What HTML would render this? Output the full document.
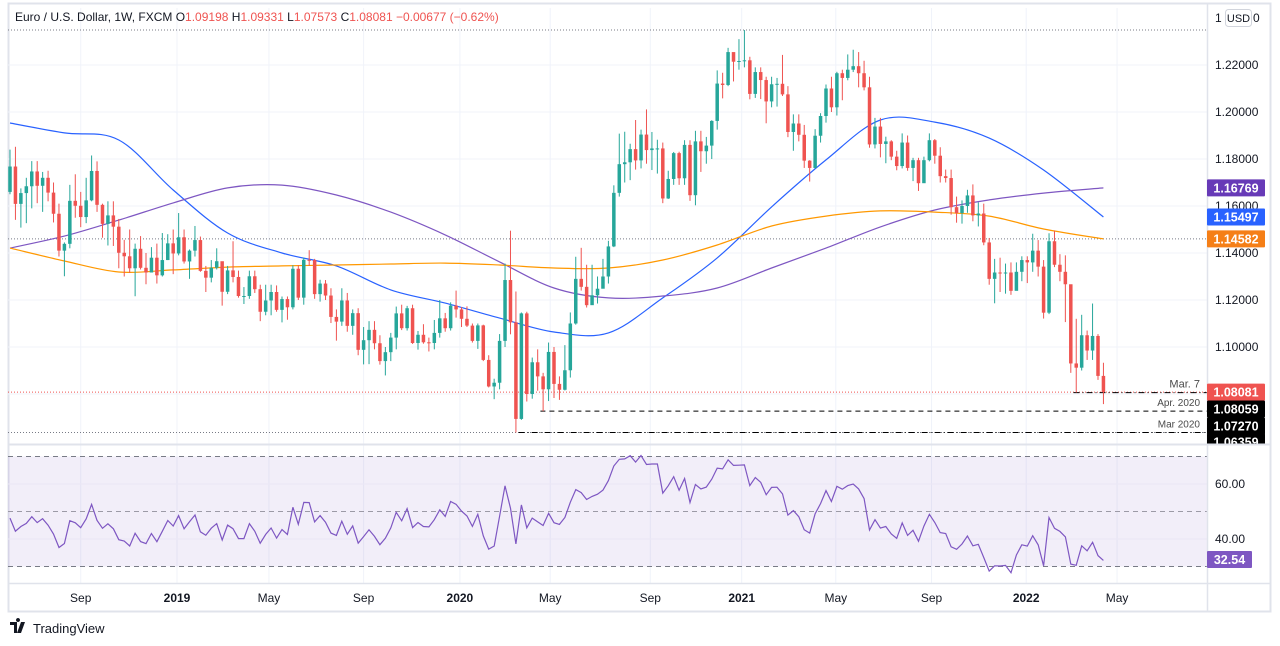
<!DOCTYPE html>
<html><head><meta charset="utf-8">
<style>
html,body{margin:0;padding:0;background:#fff;}
svg{display:block;font-family:"Liberation Sans",sans-serif;}
</style></head>
<body>
<svg id="chart" width="1280" height="646" viewBox="0 0 1280 646" xmlns="http://www.w3.org/2000/svg">
  <defs>
    <clipPath id="pricePane"><rect x="0" y="0" width="1280" height="443.5"/></clipPath>
    <clipPath id="rsiPane"><rect x="8" y="446" width="1199" height="137"/></clipPath>
  </defs>
  <rect x="0" y="0" width="1280" height="646" fill="#fff"/>
  <rect x="8.5" y="3.5" width="1262" height="608" fill="none" stroke="#e0e3eb" stroke-width="2"/>
  <g id="grid"></g>
  <g id="refs"></g>
  <g id="mas"></g>
  <g id="candles"></g>
  <g id="rsi"></g>
  <g id="axes"></g>
  <text x="15" y="21" font-size="12" fill="#131722">Euro / U.S. Dollar, 1W, FXCM  O<tspan fill="#ef5350">1.09198</tspan>  H<tspan fill="#ef5350">1.09331</tspan>  L<tspan fill="#ef5350">1.07573</tspan>  C<tspan fill="#ef5350">1.08081  −0.00677 (−0.62%)</tspan></text>
  <g>
    <path d="M10 622 h7 v11 h-3 v-8 h-4 z M18 622 a2 2 0 1 1 0.01 0 z M21 622 h4 l-4 11 h-4 z" fill="#131722"/>
    <text x="33" y="633" font-size="13" fill="#131722">TradingView</text>
  </g>
</svg>
<script>
const closes=[1.1768,1.1609,1.1655,1.1684,1.1747,1.1686,1.1720,1.1657,1.1567,1.1410,1.1439,1.1622,1.1601,1.1553,1.1624,1.1749,1.1605,1.1524,1.1560,1.1512,1.1401,1.1386,1.1335,1.1418,1.1337,1.1317,1.1380,1.1305,1.1370,1.1441,1.1398,
1.1467,1.1364,1.1410,1.1455,1.1324,1.1295,1.1337,1.1365,1.1235,1.1326,1.1298,1.1217,1.1217,1.1301,1.1246,1.1150,1.1198,1.1234,1.1158,1.1204,1.1169,1.1333,1.1210,1.1371,1.1370,1.1225,1.1270,1.1219,1.1128,1.1108,1.1198,1.1090,1.1144,1.0988,1.1029,1.1073,1.1016,1.0940,1.0978,1.1040,1.1143,1.1080,1.1165,1.1017,1.1052,1.1020,1.1017,1.1060,1.1122,1.1080,1.1176,1.1160,
1.1120,1.1091,1.1026,1.1092,1.0945,1.0832,1.0848,1.1026,1.1285,1.1105,1.0694,1.1143,1.0800,1.0935,1.0875,1.0820,1.0979,1.0843,1.0818,1.0901,1.1100,1.1290,1.1256,1.1178,1.1220,1.1248,1.1300,1.1428,1.1656,1.1778,1.1786,1.1842,1.1794,1.1904,1.1838,1.1845,1.1845,1.1632,1.1715,1.1825,1.1718,1.1860,1.1646,1.1875,1.1833,1.1857,1.1962,1.2121,1.2115,1.2255,1.2214,1.2217,
1.2220,1.2077,1.2170,1.2136,1.2045,1.2118,1.2120,1.2075,1.1915,1.1951,1.1903,1.1793,1.1762,1.1899,1.1983,1.2100,1.2020,1.2165,1.2145,1.2180,1.2195,1.2165,1.2105,1.1862,1.1938,1.1864,1.1875,1.1810,1.1770,1.1870,1.1762,1.1795,1.1697,1.1795,1.1880,1.1814,1.1727,1.1719,1.1595,1.1570,1.1600,1.1645,1.1560,1.1568,1.1445,1.1290,1.1317,1.1314,1.1317,1.1239,1.1320,1.1370,
1.1360,1.1410,1.1342,1.1146,1.1450,1.1350,1.1320,1.1267,1.0930,1.0912,1.1050,1.0985,1.1047,1.0877,1.0808];
const highs=[1.1840,1.1852,1.1675,1.1720,1.1791,1.1791,1.1745,1.1750,1.1700,1.1610,1.1445,1.1690,1.1735,1.1660,1.1720,1.1815,1.1790,1.1610,1.1620,1.1620,1.1545,1.1456,1.1500,1.1440,1.1472,1.1400,1.1425,1.1440,1.1485,1.1480,1.1500,
1.1570,1.1500,1.1415,1.1515,1.1470,1.1345,1.1370,1.1420,1.1360,1.1345,1.1450,1.1325,1.1255,1.1325,1.1325,1.1265,1.1265,1.1265,1.1262,1.1215,1.1215,1.1348,1.1348,1.1380,1.1412,1.1375,1.1286,1.1285,1.1250,1.1160,1.1250,1.1230,1.1160,1.1165,1.1085,1.1110,1.1110,1.1050,1.1000,1.1060,1.1172,1.1180,1.1175,1.1180,1.1068,1.1097,1.1040,1.1115,1.1200,1.1145,1.1190,1.1240,
1.1170,1.1173,1.1100,1.1100,1.1095,1.0965,1.0865,1.1055,1.1355,1.1495,1.1236,1.1147,1.1150,1.0955,1.0990,1.0890,1.1019,1.1000,1.0875,1.1008,1.1147,1.1384,1.1422,1.1350,1.1350,1.1300,1.1375,1.1452,1.1688,1.1908,1.1916,1.1865,1.1966,1.1925,1.2011,1.1915,1.1882,1.1870,1.1750,1.1830,1.1831,1.1880,1.1880,1.1920,1.1920,1.1894,1.1965,1.2177,1.2167,1.2273,1.2250,1.2310,
1.2349,1.2235,1.2190,1.2190,1.2150,1.2150,1.2145,1.2243,1.2110,1.1990,1.1990,1.1945,1.1795,1.1927,1.1995,1.2117,1.2150,1.2171,1.2180,1.2245,1.2265,1.2255,1.2218,1.2150,1.1975,1.1975,1.1895,1.1880,1.1835,1.1909,1.1900,1.1805,1.1805,1.1810,1.1909,1.1885,1.1850,1.1755,1.1755,1.1640,1.1624,1.1669,1.1692,1.1616,1.1610,1.1464,1.1375,1.1380,1.1355,1.1360,1.1360,1.1386,
1.1386,1.1482,1.1455,1.1370,1.1484,1.1495,1.1395,1.1390,1.1235,1.1120,1.1137,1.1070,1.1185,1.1055,1.0933];
const lows=[1.1650,1.1541,1.1508,1.1527,1.1590,1.1612,1.1575,1.1620,1.1530,1.1385,1.1301,1.1420,1.1550,1.1510,1.1527,1.1620,1.1575,1.1465,1.1432,1.1430,1.1335,1.1300,1.1315,1.1216,1.1330,1.1267,1.1320,1.1270,1.1300,1.1370,1.1310,
1.1390,1.1355,1.1290,1.1385,1.1320,1.1234,1.1275,1.1330,1.1176,1.1225,1.1275,1.1210,1.1183,1.1205,1.1230,1.1110,1.1135,1.1135,1.1150,1.1105,1.1116,1.1160,1.1200,1.1180,1.1345,1.1205,1.1193,1.1200,1.1102,1.1027,1.1090,1.1065,1.1052,1.0965,1.0926,1.0927,1.0990,1.0925,1.0879,1.0940,1.0990,1.1072,1.1070,1.1013,1.0989,1.1014,1.0981,1.0990,1.1040,1.1065,1.1070,1.1125,
1.1085,1.1085,1.1019,1.0992,1.0940,1.0828,1.0778,1.0820,1.1000,1.1054,1.0636,1.0690,1.0768,1.0780,1.0814,1.0727,1.0770,1.0783,1.0775,1.0815,1.0870,1.1095,1.1240,1.1168,1.1190,1.1185,1.1252,1.1270,1.1425,1.1640,1.1700,1.1710,1.1755,1.1760,1.1780,1.1753,1.1738,1.1612,1.1630,1.1690,1.1690,1.1690,1.1622,1.1603,1.1745,1.1780,1.1800,1.1925,1.2058,1.2110,1.2130,1.2180,
1.2190,1.2054,1.2060,1.2055,1.1952,1.2020,1.2023,1.2068,1.1893,1.1835,1.1875,1.1762,1.1704,1.1760,1.1870,1.1955,1.2000,1.1985,1.2050,1.2135,1.2170,1.2105,1.2092,1.1848,1.1845,1.1807,1.1782,1.1795,1.1752,1.1760,1.1750,1.1706,1.1664,1.1700,1.1790,1.1780,1.1700,1.1700,1.1563,1.1529,1.1525,1.1571,1.1535,1.1513,1.1433,1.1265,1.1186,1.1234,1.1227,1.1222,1.1264,1.1280,
1.1272,1.1320,1.1300,1.1121,1.1140,1.1340,1.1280,1.1106,1.0890,1.0806,1.0900,1.0945,1.0945,1.0860,1.0757];
const firstOpen=1.1660;
// RSI seed averages (weekly gain/loss before first visible bar)
const rsiSeedGain=0.0048;
const rsiSeedLoss=0.0062;
// moving averages sampled every 10 weeks (last sample at week 201)
const maIdx=[0,10,20,30,40,50,60,70,80,90,100,110,120,130,140,150,160,170,180,190,201];
const ma50=[1.1953,1.1911,1.1881,1.1668,1.1485,1.1400,1.1345,1.1243,1.1187,1.1123,1.1064,1.1060,1.1209,1.1379,1.1596,1.1796,1.1966,1.1957,1.1889,1.1753,1.1553];
const ma100=[1.1421,1.1472,1.1540,1.1613,1.1677,1.1689,1.1647,1.1574,1.1477,1.1362,1.1251,1.1209,1.1217,1.1251,1.1336,1.1421,1.1511,1.1583,1.1626,1.1655,1.1677];
const ma200=[1.1421,1.1366,1.1319,1.1328,1.1340,1.1345,1.1349,1.1353,1.1357,1.1349,1.1336,1.1336,1.1370,1.1434,1.1515,1.1557,1.1579,1.1574,1.1557,1.1502,1.1460];
const priceTicks=[1.22,1.20,1.18,1.16,1.14,1.12,1.10];
const rsiTicks=[60,40];
const timeLabels=["Sep","2019","May","Sep","2020","May","Sep","2021","May","Sep","2022","May"];
const timeWeeks=[13,30.7,47.6,65,82.7,99.3,117.7,134.5,151.8,169.4,186.8,203.5];
const levelPrices=[1.0806,1.0727,1.0636];
const levelNames=["Mar. 7","Apr. 2020","Mar 2020"];
const levelStart=[195.5,97.5,93.5];

const NS="http://www.w3.org/2000/svg";
function el(tag,attrs,parent){const e=document.createElementNS(NS,tag);for(const k in attrs)e.setAttribute(k,attrs[k]);parent.appendChild(e);return e;}
const X0=8,X1=1207;
const xI=i=>10+5.44*i;
const yP=p=>65+(1.22-p)*2350;
const yR=v=>484+(60-v)*2.75;
const G=id=>document.getElementById(id);

const grid=G('grid');
priceTicks.concat([1.08]).forEach(p=>{const l=el('line',{x1:X0,x2:X1,y1:yP(p),y2:yP(p),stroke:'#f0f3fa'},grid);

});
timeWeeks.forEach(w=>{const l=el('line',{x1:xI(w),x2:xI(w),y1:8,y2:583,stroke:'#f0f3fa'},grid);

});

const refs=G('refs');
let maxH=Math.max(...highs),minL=Math.min(...lows);
[maxH,minL].forEach(p=>{el('line',{x1:X0,x2:X1,y1:yP(p),y2:yP(p),stroke:'#787b86','stroke-dasharray':'1 2'},refs);});
el('line',{x1:X0,x2:X1,y1:yP(ma200[ma200.length-1]),y2:yP(ma200[ma200.length-1]),stroke:'#787b86','stroke-dasharray':'1 2'},refs);
const last=closes[closes.length-1];
const pl=el('line',{x1:X0,x2:X1,y1:yP(last),y2:yP(last),stroke:'#ef5350','stroke-dasharray':'1 2'},refs);


levelPrices.forEach((p,k)=>{
  const dash=k===1?'5 4':'6 3 1 3';
  const l=el('line',{x1:xI(levelStart[k]),x2:X1,y1:yP(p),y2:yP(p),stroke:'#000','stroke-dasharray':dash},refs);
  
  
  const t=el('text',{x:1200,y:yP(p)-5,'font-size':k===0?11:10,'text-anchor':'end',fill:'#4a4a4a'},refs);
  t.textContent=levelNames[k];
  
  
});

const mas=G('mas');
function smoothPath(pts){
  let d='M'+pts[0][0].toFixed(1)+' '+pts[0][1].toFixed(1);
  for(let k=0;k<pts.length-1;k++){
    const p0=pts[Math.max(0,k-1)],p1=pts[k],p2=pts[k+1],p3=pts[Math.min(pts.length-1,k+2)];
    const c1=[p1[0]+(p2[0]-p0[0])/6,p1[1]+(p2[1]-p0[1])/6],c2=[p2[0]-(p3[0]-p1[0])/6,p2[1]-(p3[1]-p1[1])/6];
    d+=' C'+c1[0].toFixed(1)+' '+c1[1].toFixed(1)+' '+c2[0].toFixed(1)+' '+c2[1].toFixed(1)+' '+p2[0].toFixed(1)+' '+p2[1].toFixed(1);
  }
  return d;
}
[[ma50,'#2962ff','ma-50-line'],[ma100,'#7e57c2','ma-100-line'],[ma200,'#ff9800','ma-200-line']].forEach(([a,c,n])=>{
  const p=el('path',{d:smoothPath(a.map((v,k)=>[xI(maIdx[k]),yP(v)])),fill:'none',stroke:c,'stroke-width':1.2},mas);
  
  
});

const cg=G('candles');
closes.forEach((c,i)=>{
  const o=i?closes[i-1]:firstOpen;
  const up=c>=o, col=up?'#26a69a':'#ef5350', x=xI(i);
  const g=el('g',{},cg);
  
  
  el('line',{x1:x,x2:x,y1:yP(highs[i]),y2:yP(lows[i]),stroke:col,'stroke-width':1},g);
  const t=yP(Math.max(o,c)),b=yP(Math.min(o,c));
  el('rect',{x:x-1.75,y:t,width:3.5,height:Math.max(1,b-t),fill:col},g);
});

const rg=G('rsi');
el('rect',{x:X0,y:yR(70),width:X1-X0,height:yR(30)-yR(70),fill:'#7e57c2','fill-opacity':0.1},rg);
rsiTicks.forEach(v=>{el('line',{x1:X0,x2:X1,y1:yR(v),y2:yR(v),stroke:'#ebe7f5'},rg);});
[70,50,30].forEach(v=>{const l=el('line',{x1:X0,x2:X1,y1:yR(v),y2:yR(v),stroke:v===50?'#9c9aa6':'#787b86','stroke-dasharray':'5 4'},rg);

});
const N=14;let ag=rsiSeedGain,al=rsiSeedLoss;const rsi=[];
{const o=firstOpen,d=closes[0]-o;ag=(ag*(N-1)+Math.max(d,0))/N;al=(al*(N-1)+Math.max(-d,0))/N;rsi.push([0,100-100/(1+ag/al)]);}
for(let i=1;i<closes.length;i++){
  const d=closes[i]-closes[i-1];
  ag=(ag*(N-1)+Math.max(d,0))/N;al=(al*(N-1)+Math.max(-d,0))/N;
  rsi.push([i,al===0?100:100-100/(1+ag/al)]);
}
const rp=el('path',{d:rsi.map((r,k)=>(k?'L':'M')+xI(r[0]).toFixed(1)+' '+yR(r[1]).toFixed(1)).join(' '),fill:'none',stroke:'#7e57c2','stroke-width':1.2,'clip-path':'url(#rsiPane)'},rg);


el('line',{x1:X0,x2:1270,y1:583.5,y2:583.5,stroke:'#e0e3eb','stroke-width':1.5},rg);

const ax=G('axes');
el('line',{x1:X1+0.5,x2:X1+0.5,y1:3,y2:612,stroke:'#e0e3eb','stroke-width':1.5},ax);
priceTicks.forEach(p=>{const t=el('text',{x:1215,y:yP(p)+4,'font-size':12,fill:'#131722'},ax);t.textContent=p.toFixed(5);

});
rsiTicks.forEach(v=>{const t=el('text',{x:1215,y:yR(v)+4,'font-size':12,fill:'#131722'},ax);t.textContent=v.toFixed(2);

});
timeLabels.forEach((s,k)=>{const bold=/^20/.test(s);const t=el('text',{x:xI(timeWeeks[k]),y:602,'font-size':12,'text-anchor':'middle',fill:'#131722','font-weight':bold?'bold':'normal'},ax);t.textContent=s;

});
const ut=el('text',{x:1215,y:22,'font-size':12,fill:'#131722'},ax);ut.textContent='1';
el('rect',{x:1225.5,y:9.5,width:26,height:17,rx:3,fill:'#fff',stroke:'#d1d4dc'},ax);
const usd=el('text',{x:1238.5,y:22,'font-size':11,'text-anchor':'middle',fill:'#131722'},ax);usd.textContent='USD';


const zt=el('text',{x:1253,y:22,'font-size':12,fill:'#131722'},ax);zt.textContent='0';
const bg=el('g',{'clip-path':'url(#pricePane)'},ax);
const badges=[['1.16769','#673ab7',yP(ma100[ma100.length-1])],['1.15497','#2962ff',yP(ma50[ma50.length-1])],['1.14582','#f57f17',yP(ma200[ma200.length-1])],
['1.08081','#ef5350',yP(last)],['1.08059','#000',409],['1.07270','#000',426],['1.06359','#000',442]];
badges.forEach(b=>{const g=el('g',{},bg);


el('rect',{x:1207,y:b[2]-8.5,width:58,height:17,fill:b[1],rx:1},g);
const t=el('text',{x:1236,y:b[2]+4.5,'font-size':12.5,'font-weight':'bold','text-anchor':'middle',fill:'#fff'},g);t.textContent=b[0];});
el('line',{x1:X0,x2:1270,y1:444.5,y2:444.5,stroke:'#e0e3eb','stroke-width':2},ax);
const rb=el('g',{},ax);


el('rect',{x:1207,y:yR(32.54)-8.5,width:45,height:17,fill:'#7e57c2',rx:1},rb);
const rt=el('text',{x:1229.5,y:yR(32.54)+4.5,'font-size':12.5,'font-weight':'bold','text-anchor':'middle',fill:'#fff'},rb);rt.textContent='32.54';
</script>
</body></html>
